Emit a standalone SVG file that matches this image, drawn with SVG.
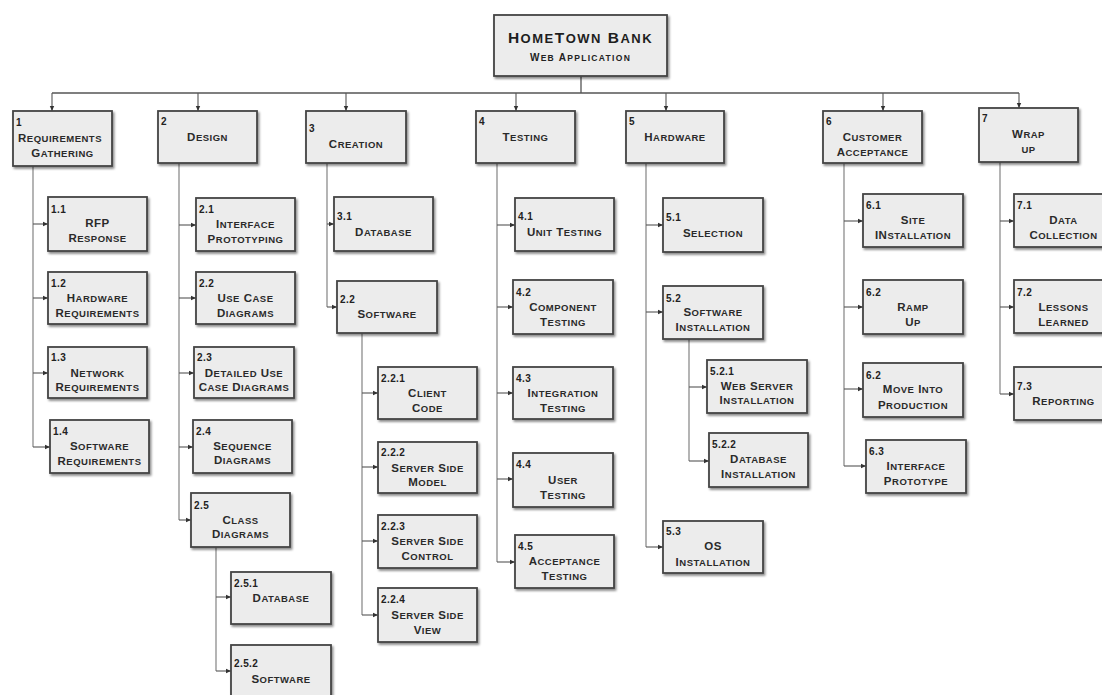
<svg xmlns="http://www.w3.org/2000/svg" width="1102" height="695" viewBox="0 0 1102 695">
  <defs>
    <filter id="shadow" x="-10%" y="-10%" width="125%" height="135%">
      <feDropShadow dx="1.5" dy="2" stdDeviation="1.2" flood-color="#000" flood-opacity="0.45"/>
    </filter>
    <marker id="arrow" markerUnits="userSpaceOnUse" markerWidth="6" markerHeight="6" refX="5.5" refY="3" orient="auto">
      <path d="M0,0.6 L5.5,3 L0,5.4 z" fill="#333"/>
    </marker>
  </defs>
  <style>
    .node rect { fill: #ececec; stroke: #444; stroke-width: 1.8; filter: url(#shadow); }
    .num { font-family: "Liberation Sans", Arial, sans-serif; font-weight: bold; font-size: 10px; letter-spacing: 0.4px; fill: #222; }
    .lbl { font-family: "Liberation Sans", Arial, sans-serif; font-weight: bold; font-size: 11.5px; letter-spacing: 0.5px; fill: #2a2a2a; text-anchor: middle; }
    .s { font-size: 9.5px; }
    .title { font-family: "Liberation Sans", Arial, sans-serif; font-weight: bold; font-size: 15.5px; letter-spacing: 1.5px; fill: #1e1e1e; text-anchor: middle; }
    .title .s { font-size: 13px; }
    .sub { font-family: "Liberation Sans", Arial, sans-serif; font-weight: bold; font-size: 10px; letter-spacing: 1.3px; fill: #222; text-anchor: middle; }
    .sub .s { font-size: 8.5px; }
    .links path { fill: none; stroke: #777; stroke-width: 1.1; }
    .links path.bus { stroke: #555; stroke-width: 1.3; }
    .links path.a { stroke: #555; marker-end: url(#arrow); }
  </style>

  <!-- connectors -->
  <g id="connectors" class="links">
    <path class="bus" d="M581,76 V93 M52,93 H1019"/>
    <path class="a" d="M52,93 V111"/>
    <path class="a" d="M198,93 V111"/>
    <path class="a" d="M346,93 V111"/>
    <path class="a" d="M516,93 V111"/>
    <path class="a" d="M666,93 V111"/>
    <path class="a" d="M883,93 V111"/>
    <path class="a" d="M1019,93 V108"/>

    <!-- 1 -->
    <path d="M33,166 V447"/>
    <path class="a" d="M33,224 H48"/>
    <path class="a" d="M33,298 H48"/>
    <path class="a" d="M33,373 H48"/>
    <path class="a" d="M33,447 H50"/>
    <!-- 2 -->
    <path d="M179,163 V520"/>
    <path class="a" d="M179,225 H196"/>
    <path class="a" d="M179,298 H196"/>
    <path class="a" d="M179,373 H194"/>
    <path class="a" d="M179,447 H193"/>
    <path class="a" d="M179,520 H191"/>
    <!-- 2.5 -->
    <path d="M216,547 V671"/>
    <path class="a" d="M216,597 H231"/>
    <path class="a" d="M216,671 H231"/>
    <!-- 3 -->
    <path d="M327,163 V307"/>
    <path class="a" d="M327,224 H334"/>
    <path class="a" d="M327,307 H337"/>
    <!-- 3 / 2.2 software -->
    <path d="M362,333 V615"/>
    <path class="a" d="M362,393 H378"/>
    <path class="a" d="M362,467 H378"/>
    <path class="a" d="M362,541 H378"/>
    <path class="a" d="M362,615 H378"/>
    <!-- 4 -->
    <path d="M497,163 V562"/>
    <path class="a" d="M497,225 H515"/>
    <path class="a" d="M497,307 H513"/>
    <path class="a" d="M497,393 H513"/>
    <path class="a" d="M497,479 H513"/>
    <path class="a" d="M497,562 H515"/>
    <!-- 5 -->
    <path d="M646,163 V547"/>
    <path class="a" d="M646,225 H663"/>
    <path class="a" d="M646,312 H663"/>
    <path class="a" d="M646,547 H663"/>
    <!-- 5.2 -->
    <path d="M689,339 V461"/>
    <path class="a" d="M689,387 H707"/>
    <path class="a" d="M689,461 H709"/>
    <!-- 6 -->
    <path d="M844,163 V466"/>
    <path class="a" d="M844,221 H863"/>
    <path class="a" d="M844,307 H863"/>
    <path class="a" d="M844,389 H863"/>
    <path class="a" d="M844,466 H866"/>
    <!-- 7 -->
    <path d="M1000,162 V394"/>
    <path class="a" d="M1000,221 H1014"/>
    <path class="a" d="M1000,307 H1014"/>
    <path class="a" d="M1000,394 H1014"/>
  </g>

  <!-- root -->
  <g id="root" class="node">
    <rect x="494" y="15" width="173" height="61"/>
    <text class="title" x="580.5" y="43">H<tspan class="s">OME</tspan>T<tspan class="s">OWN</tspan> B<tspan class="s">ANK</tspan></text>
    <text class="sub" x="580.5" y="61">W<tspan class="s">EB</tspan> A<tspan class="s">PPLICATION</tspan></text>
  </g>

  <!-- level 1 -->
  <g id="n1" class="node">
    <rect x="13" y="111" width="99" height="55"/>
    <text class="num" x="16" y="126">1</text>
    <text class="lbl" x="60" y="142">R<tspan class="s">EQUIREMENTS</tspan></text>
    <text class="lbl" x="62.5" y="157">G<tspan class="s">ATHERING</tspan></text>
  </g>
  <g id="n2" class="node">
    <rect x="158" y="111" width="99" height="52"/>
    <text class="num" x="161" y="125">2</text>
    <text class="lbl" x="207.5" y="141">D<tspan class="s">ESIGN</tspan></text>
  </g>
  <g id="n3" class="node">
    <rect x="306" y="111" width="100" height="52"/>
    <text class="num" x="309" y="132">3</text>
    <text class="lbl" x="356" y="148">C<tspan class="s">REATION</tspan></text>
  </g>
  <g id="n4" class="node">
    <rect x="476" y="111" width="99" height="52"/>
    <text class="num" x="479" y="125">4</text>
    <text class="lbl" x="525.5" y="141">T<tspan class="s">ESTING</tspan></text>
  </g>
  <g id="n5" class="node">
    <rect x="626" y="111" width="98" height="52"/>
    <text class="num" x="629" y="125">5</text>
    <text class="lbl" x="675" y="141">H<tspan class="s">ARDWARE</tspan></text>
  </g>
  <g id="n6" class="node">
    <rect x="823" y="111" width="99" height="52"/>
    <text class="num" x="826" y="125">6</text>
    <text class="lbl" x="872.5" y="141">C<tspan class="s">USTOMER</tspan></text>
    <text class="lbl" x="872.5" y="156">A<tspan class="s">CCEPTANCE</tspan></text>
  </g>
  <g id="n7" class="node">
    <rect x="979" y="108" width="99" height="54"/>
    <text class="num" x="982" y="122">7</text>
    <text class="lbl" x="1028.5" y="138">W<tspan class="s">RAP</tspan></text>
    <text class="lbl" x="1028.5" y="153"><tspan class="s">UP</tspan></text>
  </g>

  <!-- 1.x -->
  <g id="n1-1" class="node">
    <rect x="48" y="197" width="99" height="54"/>
    <text class="num" x="51" y="213">1.1</text>
    <text class="lbl" x="97.5" y="227">RFP</text>
    <text class="lbl" x="97.5" y="242">R<tspan class="s">ESPONSE</tspan></text>
  </g>
  <g id="n1-2" class="node">
    <rect x="48" y="272" width="99" height="52"/>
    <text class="num" x="51" y="287">1.2</text>
    <text class="lbl" x="97.5" y="302">H<tspan class="s">ARDWARE</tspan></text>
    <text class="lbl" x="97.5" y="317">R<tspan class="s">EQUIREMENTS</tspan></text>
  </g>
  <g id="n1-3" class="node">
    <rect x="48" y="347" width="99" height="51"/>
    <text class="num" x="51" y="361">1.3</text>
    <text class="lbl" x="97.5" y="377">N<tspan class="s">ETWORK</tspan></text>
    <text class="lbl" x="97.5" y="391">R<tspan class="s">EQUIREMENTS</tspan></text>
  </g>
  <g id="n1-4" class="node">
    <rect x="50" y="420" width="99" height="53"/>
    <text class="num" x="53" y="435">1.4</text>
    <text class="lbl" x="99.5" y="450">S<tspan class="s">OFTWARE</tspan></text>
    <text class="lbl" x="99.5" y="465">R<tspan class="s">EQUIREMENTS</tspan></text>
  </g>

  <!-- 2.x -->
  <g id="n2-1" class="node">
    <rect x="196" y="198" width="99" height="53"/>
    <text class="num" x="199" y="213">2.1</text>
    <text class="lbl" x="245.5" y="228">I<tspan class="s">NTERFACE</tspan></text>
    <text class="lbl" x="245.5" y="243">P<tspan class="s">ROTOTYPING</tspan></text>
  </g>
  <g id="n2-2" class="node">
    <rect x="196" y="272" width="99" height="52"/>
    <text class="num" x="199" y="287">2.2</text>
    <text class="lbl" x="245.5" y="302">U<tspan class="s">SE</tspan> C<tspan class="s">ASE</tspan></text>
    <text class="lbl" x="245.5" y="317">D<tspan class="s">IAGRAMS</tspan></text>
  </g>
  <g id="n2-3" class="node">
    <rect x="194" y="347" width="100" height="51"/>
    <text class="num" x="197" y="361">2.3</text>
    <text class="lbl" x="244" y="377">D<tspan class="s">ETAILED</tspan> U<tspan class="s">SE</tspan></text>
    <text class="lbl" x="244" y="391">C<tspan class="s">ASE</tspan> D<tspan class="s">IAGRAMS</tspan></text>
  </g>
  <g id="n2-4" class="node">
    <rect x="193" y="420" width="99" height="53"/>
    <text class="num" x="196" y="435">2.4</text>
    <text class="lbl" x="242.5" y="450">S<tspan class="s">EQUENCE</tspan></text>
    <text class="lbl" x="242.5" y="464">D<tspan class="s">IAGRAMS</tspan></text>
  </g>
  <g id="n2-5" class="node">
    <rect x="191" y="493" width="99" height="54"/>
    <text class="num" x="194" y="509">2.5</text>
    <text class="lbl" x="240.5" y="524">C<tspan class="s">LASS</tspan></text>
    <text class="lbl" x="240.5" y="538">D<tspan class="s">IAGRAMS</tspan></text>
  </g>
  <g id="n2-5-1" class="node">
    <rect x="231" y="572" width="100" height="52"/>
    <text class="num" x="234" y="587">2.5.1</text>
    <text class="lbl" x="281" y="602">D<tspan class="s">ATABASE</tspan></text>
  </g>
  <g id="n2-5-2" class="node">
    <rect x="231" y="645" width="100" height="60"/>
    <text class="num" x="234" y="667">2.5.2</text>
    <text class="lbl" x="281" y="683">S<tspan class="s">OFTWARE</tspan></text>
  </g>

  <!-- 3.x -->
  <g id="n3-1" class="node">
    <rect x="334" y="197" width="99" height="54"/>
    <text class="num" x="337" y="220">3.1</text>
    <text class="lbl" x="383.5" y="236">D<tspan class="s">ATABASE</tspan></text>
  </g>
  <g id="n3-2" class="node">
    <rect x="337" y="281" width="100" height="52"/>
    <text class="num" x="340" y="303">2.2</text>
    <text class="lbl" x="387" y="318">S<tspan class="s">OFTWARE</tspan></text>
  </g>
  <g id="n3-2-1" class="node">
    <rect x="378" y="367" width="99" height="52"/>
    <text class="num" x="381" y="382">2.2.1</text>
    <text class="lbl" x="427.5" y="397">C<tspan class="s">LIENT</tspan></text>
    <text class="lbl" x="427.5" y="412">C<tspan class="s">ODE</tspan></text>
  </g>
  <g id="n3-2-2" class="node">
    <rect x="378" y="442" width="99" height="51"/>
    <text class="num" x="381" y="456">2.2.2</text>
    <text class="lbl" x="427.5" y="472">S<tspan class="s">ERVER</tspan> S<tspan class="s">IDE</tspan></text>
    <text class="lbl" x="427.5" y="486">M<tspan class="s">ODEL</tspan></text>
  </g>
  <g id="n3-2-3" class="node">
    <rect x="378" y="515" width="99" height="53"/>
    <text class="num" x="381" y="530">2.2.3</text>
    <text class="lbl" x="427.5" y="545">S<tspan class="s">ERVER</tspan> S<tspan class="s">IDE</tspan></text>
    <text class="lbl" x="427.5" y="560">C<tspan class="s">ONTROL</tspan></text>
  </g>
  <g id="n3-2-4" class="node">
    <rect x="378" y="588" width="99" height="54"/>
    <text class="num" x="381" y="603">2.2.4</text>
    <text class="lbl" x="427.5" y="619">S<tspan class="s">ERVER</tspan> S<tspan class="s">IDE</tspan></text>
    <text class="lbl" x="427.5" y="634">V<tspan class="s">IEW</tspan></text>
  </g>

  <!-- 4.x -->
  <g id="n4-1" class="node">
    <rect x="515" y="198" width="99" height="53"/>
    <text class="num" x="518" y="220">4.1</text>
    <text class="lbl" x="564.5" y="236">U<tspan class="s">NIT</tspan> T<tspan class="s">ESTING</tspan></text>
  </g>
  <g id="n4-2" class="node">
    <rect x="513" y="280" width="100" height="54"/>
    <text class="num" x="516" y="296">4.2</text>
    <text class="lbl" x="563" y="311">C<tspan class="s">OMPONENT</tspan></text>
    <text class="lbl" x="563" y="326">T<tspan class="s">ESTING</tspan></text>
  </g>
  <g id="n4-3" class="node">
    <rect x="513" y="367" width="100" height="52"/>
    <text class="num" x="516" y="382">4.3</text>
    <text class="lbl" x="563" y="397">I<tspan class="s">NTEGRATION</tspan></text>
    <text class="lbl" x="563" y="412">T<tspan class="s">ESTING</tspan></text>
  </g>
  <g id="n4-4" class="node">
    <rect x="513" y="453" width="100" height="54"/>
    <text class="num" x="516" y="468">4.4</text>
    <text class="lbl" x="563" y="484">U<tspan class="s">SER</tspan></text>
    <text class="lbl" x="563" y="499">T<tspan class="s">ESTING</tspan></text>
  </g>
  <g id="n4-5" class="node">
    <rect x="515" y="535" width="99" height="53"/>
    <text class="num" x="518" y="550">4.5</text>
    <text class="lbl" x="564.5" y="565">A<tspan class="s">CCEPTANCE</tspan></text>
    <text class="lbl" x="564.5" y="580">T<tspan class="s">ESTING</tspan></text>
  </g>

  <!-- 5.x -->
  <g id="n5-1" class="node">
    <rect x="663" y="198" width="100" height="54"/>
    <text class="num" x="666" y="221">5.1</text>
    <text class="lbl" x="713" y="237">S<tspan class="s">ELECTION</tspan></text>
  </g>
  <g id="n5-2" class="node">
    <rect x="663" y="286" width="100" height="53"/>
    <text class="num" x="666" y="302">5.2</text>
    <text class="lbl" x="713" y="316">S<tspan class="s">OFTWARE</tspan></text>
    <text class="lbl" x="713" y="331">I<tspan class="s">NSTALLATION</tspan></text>
  </g>
  <g id="n5-2-1" class="node">
    <rect x="707" y="360" width="100" height="53"/>
    <text class="num" x="710" y="375">5.2.1</text>
    <text class="lbl" x="757" y="390">W<tspan class="s">EB</tspan> S<tspan class="s">ERVER</tspan></text>
    <text class="lbl" x="757" y="404">I<tspan class="s">NSTALLATION</tspan></text>
  </g>
  <g id="n5-2-2" class="node">
    <rect x="709" y="433" width="99" height="54"/>
    <text class="num" x="712" y="448">5.2.2</text>
    <text class="lbl" x="758.5" y="463">D<tspan class="s">ATABASE</tspan></text>
    <text class="lbl" x="758.5" y="478">I<tspan class="s">NSTALLATION</tspan></text>
  </g>
  <g id="n5-3" class="node">
    <rect x="663" y="521" width="100" height="52"/>
    <text class="num" x="666" y="535">5.3</text>
    <text class="lbl" x="713" y="550">OS</text>
    <text class="lbl" x="713" y="566">I<tspan class="s">NSTALLATION</tspan></text>
  </g>

  <!-- 6.x -->
  <g id="n6-1" class="node">
    <rect x="863" y="194" width="100" height="53"/>
    <text class="num" x="866" y="209">6.1</text>
    <text class="lbl" x="913" y="224">S<tspan class="s">ITE</tspan></text>
    <text class="lbl" x="913" y="239">IN<tspan class="s">STALLATION</tspan></text>
  </g>
  <g id="n6-2" class="node">
    <rect x="863" y="280" width="100" height="54"/>
    <text class="num" x="866" y="296">6.2</text>
    <text class="lbl" x="913" y="311">R<tspan class="s">AMP</tspan></text>
    <text class="lbl" x="913" y="326">U<tspan class="s">P</tspan></text>
  </g>
  <g id="n6-2b" class="node">
    <rect x="863" y="363" width="100" height="54"/>
    <text class="num" x="866" y="379">6.2</text>
    <text class="lbl" x="913" y="393">M<tspan class="s">OVE</tspan> I<tspan class="s">NTO</tspan></text>
    <text class="lbl" x="913" y="409">P<tspan class="s">RODUCTION</tspan></text>
  </g>
  <g id="n6-3" class="node">
    <rect x="866" y="440" width="100" height="53"/>
    <text class="num" x="869" y="455">6.3</text>
    <text class="lbl" x="916" y="470">I<tspan class="s">NTERFACE</tspan></text>
    <text class="lbl" x="916" y="485">P<tspan class="s">ROTOTYPE</tspan></text>
  </g>

  <!-- 7.x -->
  <g id="n7-1" class="node">
    <rect x="1014" y="194" width="99" height="53"/>
    <text class="num" x="1017" y="209">7.1</text>
    <text class="lbl" x="1063.5" y="224">D<tspan class="s">ATA</tspan></text>
    <text class="lbl" x="1063.5" y="239">C<tspan class="s">OLLECTION</tspan></text>
  </g>
  <g id="n7-2" class="node">
    <rect x="1014" y="280" width="99" height="53"/>
    <text class="num" x="1017" y="296">7.2</text>
    <text class="lbl" x="1063.5" y="311">L<tspan class="s">ESSONS</tspan></text>
    <text class="lbl" x="1063.5" y="326">L<tspan class="s">EARNED</tspan></text>
  </g>
  <g id="n7-3" class="node">
    <rect x="1014" y="367" width="99" height="53"/>
    <text class="num" x="1017" y="390">7.3</text>
    <text class="lbl" x="1063.5" y="405">R<tspan class="s">EPORTING</tspan></text>
  </g>
</svg>
